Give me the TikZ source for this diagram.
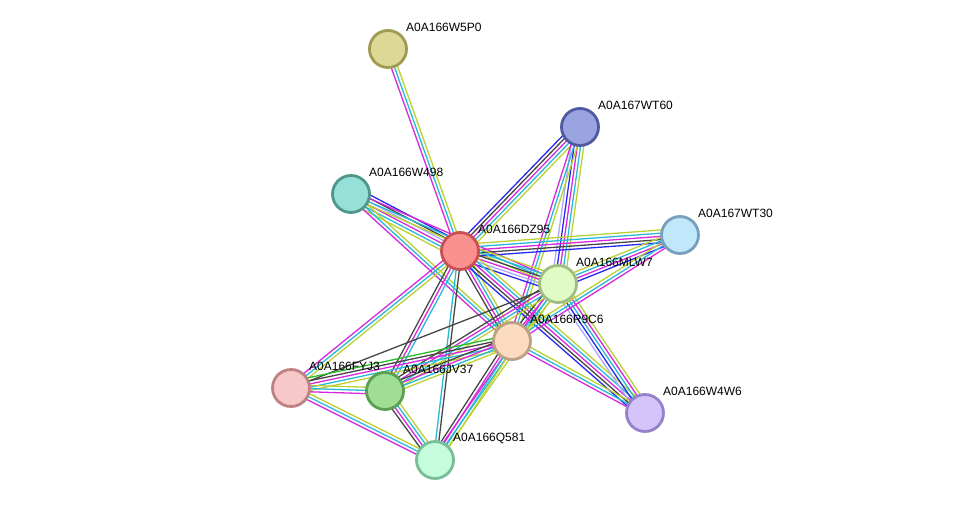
\documentclass[tikz,border=0pt]{standalone}
\usepackage{fontspec}
\setmainfont{Liberation Sans}
\usetikzlibrary{calc,backgrounds}
\definecolor{ec}{RGB}{40,185,215}
\definecolor{em}{RGB}{215,40,220}
\definecolor{ey}{RGB}{185,210,50}
\definecolor{ek}{RGB}{70,70,70}
\definecolor{eb}{RGB}{40,40,240}
\definecolor{el}{RGB}{170,170,250}
\definecolor{eg}{RGB}{40,190,40}
\newcommand\bundle[4]{%
  \foreach \cc [count=\i] in {#4} {%
    \pgfmathsetmacro\oo{(\i-(#3+1)/2)*3.2}%
    \draw[edge,\cc] ($(#1.center)!\oo pt!90:(#2.center)$) -- ($(#2.center)!\oo pt!-90:(#1.center)$);
  }}
\tikzset{
  prot/.style={circle,minimum size=37pt,inner sep=0pt,line width=2.8pt},
  lab/.style={anchor=west,font=\fontsize{12}{14}\selectfont,inner sep=0pt},
  edge/.style={line width=1.3pt}
}
\begin{document}
\begin{tikzpicture}[x=1pt,y=-1pt]
\useasboundingbox (0,0) rectangle (975,506);
\node[prot,fill={rgb,255:red,220;green,216;blue,150},draw={rgb,255:red,160;green,155;blue,80}] (W5P0) at (388,49) {};
\node[prot,fill={rgb,255:red,154;green,164;blue,224},draw={rgb,255:red,80;green,90;blue,160}] (WT60) at (580,127) {};
\node[prot,fill={rgb,255:red,150;green,224;blue,216},draw={rgb,255:red,80;green,150;blue,140}] (W498) at (351,194) {};
\node[prot,fill={rgb,255:red,192;green,232;blue,250},draw={rgb,255:red,120;green,160;blue,190}] (WT30) at (680,235) {};
\node[prot,fill={rgb,255:red,250;green,144;blue,144},draw={rgb,255:red,200;green,80;blue,80}] (DZ95) at (460,251) {};
\node[prot,fill={rgb,255:red,224;green,252;blue,196},draw={rgb,255:red,160;green,190;blue,130}] (MLW7) at (558,284) {};
\node[prot,fill={rgb,255:red,252;green,220;blue,192},draw={rgb,255:red,190;green,160;blue,130}] (R9C6) at (512,341) {};
\node[prot,fill={rgb,255:red,246;green,200;blue,200},draw={rgb,255:red,190;green,130;blue,130}] (FYJ3) at (291,388) {};
\node[prot,fill={rgb,255:red,160;green,222;blue,150},draw={rgb,255:red,90;green,160;blue,80}] (JV37) at (385,391) {};
\node[prot,fill={rgb,255:red,212;green,196;blue,250},draw={rgb,255:red,150;green,130;blue,200}] (W4W6) at (645,413) {};
\node[prot,fill={rgb,255:red,196;green,252;blue,220},draw={rgb,255:red,120;green,190;blue,150}] (Q581) at (435,460) {};
\foreach \n/\t in {W5P0/A0A166W5P0,WT60/A0A167WT60,W498/A0A166W498,WT30/A0A167WT30,DZ95/A0A166DZ95,MLW7/A0A166MLW7,R9C6/A0A166R9C6,FYJ3/A0A166FYJ3,JV37/A0A166JV37,W4W6/A0A166W4W6,Q581/A0A166Q581}
  \node[lab] (L\n) at ($(\n.center)+(18,-22)$) {\t};
\begin{pgfonlayer}{background}
\bundle{W5P0}{DZ95}{3}{em,ec,ey}
\bundle{WT60}{DZ95}{5}{eb,ek,em,ec,ey}
\bundle{WT60}{MLW7}{5}{el,eb,em,ec,ey}
\bundle{WT60}{R9C6}{3}{em,ec,ey}
\bundle{W498}{DZ95}{6}{ey,ec,em,el,ek,eb}
\bundle{W498}{R9C6}{3}{em,ec,ey}
\bundle{W498}{MLW7}{3}{ey,ec,em}
\bundle{DZ95}{WT30}{5}{eb,ek,em,ec,ey}
\bundle{DZ95}{MLW7}{6}{eb,el,em,ek,ec,ey}
\bundle{DZ95}{R9C6}{4}{ek,em,ec,ey}
\bundle{DZ95}{W4W6}{5}{eb,ek,em,ec,ey}
\bundle{DZ95}{FYJ3}{3}{em,ec,ey}
\bundle{DZ95}{JV37}{3}{ek,em,ec}
\bundle{DZ95}{Q581}{2}{ec,ek}
\bundle{MLW7}{WT30}{4}{eb,em,ec,ey}
\bundle{MLW7}{R9C6}{4}{ek,em,ec,ey}
\bundle{MLW7}{W4W6}{5}{el,eb,ec,em,ey}
\bundle{MLW7}{Q581}{3}{em,ec,ey}
\bundle{MLW7}{JV37}{4}{ek,em,ec,ey}
\bundle{MLW7}{FYJ3}{1}{ek}
\bundle{R9C6}{WT30}{3}{em,ec,ey}
\bundle{R9C6}{W4W6}{3}{em,ec,ey}
\bundle{R9C6}{FYJ3}{5}{eg,ek,em,ec,ey}
\bundle{R9C6}{JV37}{4}{ek,em,ec,ey}
\bundle{R9C6}{Q581}{4}{ek,em,ec,ey}
\bundle{FYJ3}{JV37}{3}{em,ec,ey}
\bundle{FYJ3}{Q581}{3}{em,ec,ey}
\bundle{JV37}{Q581}{4}{ek,em,ec,ey}
\end{pgfonlayer}
\end{tikzpicture}
\end{document}
